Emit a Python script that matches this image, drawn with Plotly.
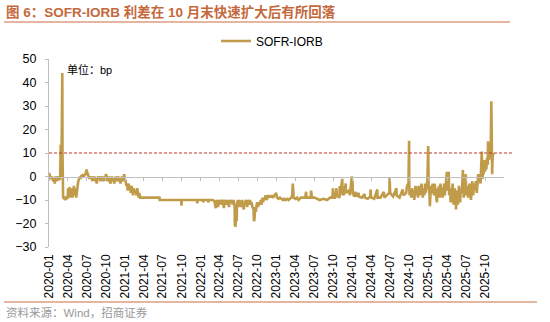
import plotly.graph_objects as go

# ---------------- data: SOFR minus IORB, bp ----------------
days_2020 = ["01-02", "01-06", "01-10", "01-15", "01-21", "01-24", "01-29", "01-31",
             "02-04", "02-07", "02-12", "02-18", "02-21", "02-24", "02-26",
             "03-02", "03-04", "03-05", "03-06", "03-09", "03-16", "03-20", "03-24", "03-27", "03-31",
             "04-02", "04-06", "04-09", "04-13", "04-16", "04-20", "04-23", "04-27", "04-30",
             "05-04", "05-07", "05-11", "05-14", "05-18", "05-21", "05-26", "05-29",
             "06-02", "06-05", "06-09", "06-12", "06-16", "06-19", "06-23", "06-26", "06-30",
             "07-02", "07-07", "07-10", "07-14", "07-17", "07-21", "07-24", "07-28", "07-31",
             "08-04", "08-07", "08-11", "08-14", "08-18", "08-21", "08-25", "08-28",
             "09-01", "09-04", "09-09", "09-14", "09-17", "09-21", "09-24", "09-28",
             "10-01", "10-05", "10-08", "10-13", "10-16", "10-20", "10-23", "10-27", "10-30",
             "11-03", "11-06", "11-10", "11-13", "11-17", "11-20", "11-24", "11-30",
             "12-03", "12-07", "12-10", "12-14", "12-17", "12-21", "12-24", "12-28", "12-31"]
spread_2020 = [1.5, 0, -1, 0, -2, -1, -3, 0,
               -1, -2, 0, -1, -1.5, 0, 13,
               13, 44, 44, 10, -9, -9.5, -9, -9.5, -9, -9,
               -5, -8, -4.5, -9, -7, -5, -9, -6, -4,
               -8, -5, -9, -6, -3, -2, -1, 0,
               -1, 0.5, 0, 1, -0.5, 1, 0.5, 1.5, 3,
               2, 1, 0, -1, 0, -1, 0, -2, 0,
               -1, 0, -2, -1, -3, -1, 0, -1,
               0, -2, -1, 0, -1, -2, 0, -1,
               1, 0, -2, -1, 0, -2, -3, -1, 0,
               -2, -1, -3, -1, 0, -2, -1, 0,
               -2, -1, -3, -1, 0, -2, -1, 1, -1]

days_2021 = ["01-04", "01-07", "01-11", "01-14", "01-19", "01-22", "01-26", "01-29",
             "02-02", "02-05", "02-09", "02-12", "02-17", "02-22", "02-25",
             "03-01", "03-04", "03-08", "03-11", "03-15",
             "04-15", "05-14", "06-16", "06-17", "07-30",
             "09-29", "09-30", "10-01", "11-30",
             "12-14", "12-15", "12-16", "12-31"]
spread_2021 = [-2, -4, -3, -6, -3, -5, -4, -7,
               -4, -6, -8, -5, -7, -6, -8,
               -5, -8, -9, -7, -9,
               -9, -9, -9, -10, -10,
               -10, -12.4, -10, -10,
               -10, -11.5, -10, -10]

days_2022 = ["01-12", "01-13", "01-14", "02-04", "02-07", "02-08", "02-28",
             "03-08", "03-14", "03-17", "03-22", "03-25", "03-29",
             "04-01", "04-05", "04-08", "04-12", "04-19", "04-22", "04-26", "04-29",
             "05-03", "05-06", "05-10", "05-13", "05-17", "05-20", "05-25", "05-31",
             "06-03", "06-08", "06-13", "06-14", "06-16", "06-17", "06-21", "06-23", "06-24", "06-28",
             "07-01", "07-05", "07-08", "07-12", "07-15", "07-19", "07-22", "07-27", "07-29",
             "08-02", "08-05", "08-09", "08-12", "08-16", "08-19", "08-23", "08-26", "08-30",
             "09-02", "09-07", "09-12", "09-14", "09-16", "09-20", "09-23", "09-27", "09-30",
             "10-04", "10-07", "10-12", "10-17", "10-20", "10-25", "10-28",
             "11-01", "11-04", "11-09", "11-14", "11-17", "11-22", "11-28",
             "12-01", "12-05", "12-09", "12-14", "12-19", "12-30"]
spread_2022 = [-10, -11, -10, -10, -11, -10, -10,
               -10.5, -13.5, -10, -11, -13, -10,
               -11, -10, -12, -10, -11, -13.5, -10, -11,
               -10, -12, -10, -11, -13, -10, -11, -10,
               -12, -10, -13, -21, -20, -21.5, -14, -19, -12, -10,
               -13, -10, -12, -11, -13, -10, -12, -14, -11,
               -12, -10, -11, -13, -10, -12, -11, -10, -12,
               -11, -13, -14, -19, -18.5, -13, -15, -12, -11,
               -13, -11, -12, -10, -12, -9, -11,
               -9, -10, -8, -10, -9, -8, -9,
               -8, -9, -8, -9, -8.5, -7]

days_2023 = ["01-03", "01-10", "01-17", "01-24", "02-01", "02-07", "02-14", "02-21", "02-28",
             "03-06", "03-13", "03-17", "03-20", "03-22", "03-24",
             "04-03", "04-10", "04-17", "04-28", "05-19", "05-23", "05-25",
             "06-14", "06-16", "06-20", "07-03", "07-27", "08-15", "09-01", "09-15",
             "09-27", "09-29", "10-02", "10-10", "10-16", "10-18", "10-31",
             "11-01", "11-03", "11-13", "11-15", "11-20", "11-30",
             "12-01", "12-15", "12-20", "12-29"]
spread_2023 = [-9, -9.5, -9, -9.5, -10, -9.5, -10, -9.5, -10,
               -9.5, -9, -8, -3, -6, -9,
               -9.5, -9, -10, -9, -9, -6.5, -9,
               -9, -6, -9, -9, -10, -9.5, -10, -9,
               -9, -5, -9, -9, -5, -8, -9,
               -4, -8, -1, -7, -8, -3,
               -7, -6, -8, 0]

days_2024 = ["01-02", "01-03", "01-10", "01-16", "01-19", "01-31",
             "02-01", "02-15", "02-29", "03-01", "03-15", "03-27", "03-28",
             "04-01", "04-15", "04-30", "05-01", "05-15", "05-31",
             "06-03", "06-14", "06-27", "06-28", "07-01", "07-15", "07-31",
             "08-01", "08-15", "08-30", "09-03", "09-16", "09-20", "09-27", "09-30",
             "10-01", "10-02", "10-07", "10-10", "10-15", "10-18", "10-22", "10-25", "10-31",
             "11-04", "11-07", "11-12", "11-15", "11-20", "11-25", "11-29",
             "12-02", "12-05", "12-10", "12-13", "12-16", "12-19", "12-23", "12-27", "12-31"]
spread_2024 = [-3, -7, -8.5, -6.5, -8.5, -7,
               -8.5, -9, -7.5, -9, -9.5, -8.5, -5.5,
               -9, -9.5, -5.5, -9, -9, -6.5,
               -9, -8, -7, -0.3, -7, -8.5, -5,
               -8, -9, -5.5, -8, -7, -4, -3, 15.2,
               -3, -8, -6, -9, -5, -9, -6, -10, -4,
               -8, -5, -9, -4, -8, -6, -3,
               -7, -9, -5, -8, -3, -7, -4, -2, 13]

days_2025 = ["01-02", "01-06", "01-08", "01-10", "01-14", "01-17", "01-21", "01-24", "01-28", "01-31",
             "02-04", "02-07", "02-11", "02-14", "02-19", "02-21", "02-25", "02-28",
             "03-04", "03-07", "03-11", "03-14", "03-18", "03-21", "03-25", "03-28", "03-31",
             "04-03", "04-07", "04-09", "04-11", "04-15", "04-18", "04-23", "04-28", "04-30",
             "05-02", "05-06", "05-08", "05-12", "05-14", "05-16", "05-20", "05-23", "05-28", "05-30",
             "06-03", "06-06", "06-10", "06-13", "06-16", "06-18", "06-20", "06-24", "06-27", "06-30",
             "07-01", "07-03", "07-08", "07-11", "07-15", "07-18", "07-22", "07-25", "07-29", "07-31",
             "08-01", "08-05", "08-08", "08-13", "08-18", "08-22", "08-27", "08-29",
             "09-02", "09-05", "09-09", "09-12", "09-15", "09-16", "09-18", "09-22", "09-24", "09-26", "09-30",
             "10-01", "10-03", "10-07", "10-10", "10-14", "10-15", "10-16", "10-20", "10-22", "10-24", "10-28", "10-30", "10-31",
             "11-03", "11-04", "11-05", "11-07", "11-10"]
spread_2025 = [-4, -7, -12.6, -9, -4, -7, -3, -6, -8, -3,
               -6, -9, -11, -5, -8, -4, -9, -3,
               -7, -5, -9, -6, -3, -8, -2, 1, 2,
               -6, -1, 2, -8, -5, -11, -7, -3, -9,
               -12, -8, -5, -10, -14, -9, -6, -12, -4, -8,
               -11, -5, -7, -3, 2.8, -4, -9, -5, -1, 1,
               -5, -8, -4, -9, -6, -3, -7, -10, -5, -2,
               -4, -8, -3, -6, -2, -7, -1, 1,
               -2, 1, -3, 2, 10.6, 5, -1, 3, 1, 7, 4,
               2, 6, 3, 8, 5, 15, 10, 7, 14, 8, 10, 18, 32,
               8, 1, 5, 10, 9]

series_name = "SOFR-IORB"
ref_level = 10
y_ticks = [50, 40, 30, 20, 10, 0, -10, -20, -30]
quarter_labels = [f"{y}-{m}" for y in range(2020, 2026) for m in ("01", "04", "07", "10")]

yearly = [(2020, days_2020, spread_2020), (2021, days_2021, spread_2021),
          (2022, days_2022, spread_2022), (2023, days_2023, spread_2023),
          (2024, days_2024, spread_2024), (2025, days_2025, spread_2025)]
dates, spread = [], []
for year, days, vals in yearly:
    assert len(days) == len(vals), year
    dates += [f"{year}-{d}" for d in days]
    spread += vals

# ---------------- styling ----------------
W, H = 550, 322
L, R, T, B = 49, 46, 59, 75
PW, PH = W - L - R, H - T - B
FONT = "Arial, 'Liberation Sans', 'Noto Sans CJK SC', sans-serif"
GOLD = "#C09B4A"
AXIS = "#BFBFBF"
ACCENT = "#C4693C"
RULE = "#DE9C80"

def px(xp):
    return (xp - L) / PW

def py(yp):
    return (H - B - yp) / PH

x_range = ["2020-01-01", "2025-12-31"]
tickvals = [q + "-01" for q in quarter_labels]

fig = go.Figure()
# helper trace that keeps the label axis alive
fig.add_trace(go.Scatter(x=[dates[0]], y=[None], xaxis="x", yaxis="y",
                         showlegend=False, hoverinfo="skip"))
fig.add_trace(go.Scatter(x=dates, y=spread, xaxis="x2", yaxis="y", mode="lines",
                         name=series_name, line=dict(color=GOLD, width=2.6)))

fig.update_layout(
    width=W, height=H,
    margin=dict(l=L, r=R, t=T, b=B),
    paper_bgcolor="white", plot_bgcolor="white",
    font=dict(family=FONT, size=12, color="#000000"),
    xaxis=dict(range=x_range, tickvals=tickvals, ticktext=quarter_labels,
               tickangle=-90, showline=False, showgrid=False, zeroline=False,
               ticks="", tickfont=dict(size=12, color="#000000"), ticklabelstandoff=4),
    xaxis2=dict(range=x_range, overlaying="x", anchor="free", position=py(176.5),
                tickvals=tickvals, showticklabels=False, showline=True,
                linecolor=AXIS, linewidth=1.2, ticks="outside", ticklen=3,
                tickcolor=AXIS, showgrid=False, zeroline=False),
    yaxis=dict(range=[-30, 50], tickvals=y_ticks, showline=True, linecolor=AXIS,
               linewidth=1.2, ticks="outside", ticklen=3, tickcolor=AXIS,
               showgrid=False, zeroline=False, tickfont=dict(size=12.5, color="#000000"),
               ticklabelstandoff=6),
    legend=dict(x=px(216), y=py(41), xanchor="left", yanchor="middle",
                orientation="h", font=dict(size=12, color="#000000"),
                bgcolor="rgba(0,0,0,0)", itemwidth=30),
    showlegend=True,
)

# dashed reference line at 10bp
fig.add_shape(type="line", xref="paper", yref="y", x0=0, x1=px(513),
              y0=ref_level, y1=ref_level,
              line=dict(color="#C0392B", width=1.2, dash="3px,2px"))

# header and footer rules
fig.add_shape(type="line", xref="paper", yref="paper", x0=px(4), x1=px(510),
              y0=py(22), y1=py(22), line=dict(color=RULE, width=1.5))
fig.add_shape(type="line", xref="paper", yref="paper", x0=px(4), x1=px(537),
              y0=py(302), y1=py(302), line=dict(color=RULE, width=1.5))

fig.add_annotation(text="<b>图 6：SOFR-IORB 利差在 10 月末快速扩大后有所回落</b>",
                   xref="paper", yref="paper", x=px(4), y=py(12),
                   xanchor="left", yanchor="middle", showarrow=False,
                   font=dict(family=FONT, size=13.5, color=ACCENT))
fig.add_annotation(text="单位：bp", xref="paper", yref="paper", x=px(65), y=py(70),
                   xanchor="left", yanchor="middle", showarrow=False,
                   font=dict(family=FONT, size=11, color="#000000"))
fig.add_annotation(text="资料来源：Wind，招商证券", xref="paper", yref="paper",
                   x=px(4), y=py(312), xanchor="left", yanchor="middle",
                   showarrow=False, font=dict(family=FONT, size=11.5, color="#999999"))

fig.write_html("out.html")
